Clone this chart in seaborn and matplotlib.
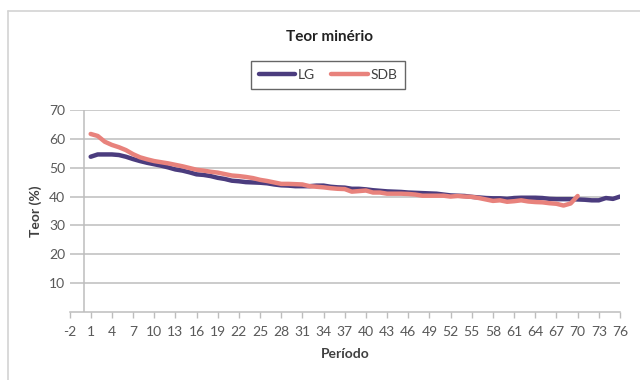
import numpy as np
import pandas as pd
import seaborn as sns
import matplotlib
matplotlib.use("Agg")
import matplotlib.pyplot as plt
from matplotlib.lines import Line2D

# Teor (%) por período para cada método de sequenciamento
periodo_lg = list(range(1, 77))
teor_lg = [
    53.8, 54.6, 54.6, 54.6, 54.4, 53.8, 53.0, 52.3, 51.7, 51.2,
    50.7, 50.1, 49.4, 49.0, 48.4, 47.7, 47.5, 47.1, 46.5, 46.1,
    45.5, 45.3, 45.0, 44.9, 44.8, 44.6, 44.2, 43.9, 43.8, 43.6,
    43.6, 43.6, 43.8, 43.8, 43.4, 43.2, 43.1, 42.7, 42.7, 42.5,
    42.2, 42.0, 41.8, 41.7, 41.6, 41.4, 41.3, 41.2, 41.1, 41.0,
    40.7, 40.4, 40.3, 40.2, 39.9, 39.7, 39.5, 39.4, 39.4, 39.2,
    39.5, 39.6, 39.6, 39.6, 39.5, 39.2, 39.1, 39.1, 39.1, 39.0,
    38.9, 38.7, 38.7, 39.5, 39.2, 40.0,
]
periodo_sdb = list(range(1, 71))
teor_sdb = [
    61.7, 61.0, 59.0, 57.9, 57.1, 56.1, 54.7, 53.6, 52.9, 52.3,
    51.9, 51.5, 51.0, 50.5, 49.9, 49.3, 49.0, 48.6, 48.3, 47.8,
    47.3, 47.1, 46.8, 46.4, 45.8, 45.4, 44.9, 44.4, 44.4, 44.3,
    44.2, 43.6, 43.4, 43.2, 42.9, 42.7, 42.6, 41.7, 41.9, 42.1,
    41.4, 41.4, 41.0, 41.0, 41.0, 40.9, 40.7, 40.3, 40.3, 40.3,
    40.3, 40.0, 40.2, 40.0, 39.9, 39.5, 39.0, 38.5, 38.7, 38.2,
    38.4, 38.7, 38.3, 38.1, 38.0, 37.7, 37.5, 36.9, 37.6, 40.2,
]
series = ["LG", "SDB"]
colors = {"LG": "#4B3C7E", "SDB": "#E8827C"}

x_ticks = list(range(-2, 77, 3))
y_ticks = list(range(10, 71, 10))

df = pd.concat([
    pd.DataFrame({"Período": periodo_lg, "Teor": teor_lg, "Série": "LG"}),
    pd.DataFrame({"Período": periodo_sdb, "Teor": teor_sdb, "Série": "SDB"}),
])

sns.set_theme(style="white")
plt.rcParams["font.family"] = ["Lato", "DejaVu Sans"]
plt.rcParams["axes.unicode_minus"] = False

fig = plt.figure(figsize=(6.4, 3.8), dpi=100)
ax = fig.add_axes([69.5 / 640, 1 - 312 / 380, (620 - 69.5) / 640, (312 - 110) / 380])

grid_c = "#BDBDBD"
tick_c = "#595959"

# horizontal gridlines and the vertical axis at x = 0
for yv in y_ticks:
    ax.axhline(yv, color=grid_c, lw=1.1, zorder=0)
ax.axvline(0, color=grid_c, lw=1.1, zorder=0)

sns.lineplot(data=df, x="Período", y="Teor", hue="Série", palette=colors,
             lw=3.2, ax=ax, legend=False, zorder=3)

ax.set_xlim(-2, 76)
ax.set_ylim(0, 70)
ax.set_xticks(x_ticks)
ax.set_yticks(y_ticks)
ax.tick_params(axis="x", direction="out", length=4, width=1, color=grid_c,
               labelsize=10, labelcolor=tick_c, pad=6, bottom=True)
ax.tick_params(axis="y", length=0, labelsize=10, labelcolor=tick_c, pad=3)

for s in ["top", "right", "left"]:
    ax.spines[s].set_visible(False)
ax.spines["bottom"].set_color(grid_c)
ax.spines["bottom"].set_linewidth(1.1)

ax.set_xlabel("Período", fontsize=10, fontweight="bold", color="#404040", labelpad=7)
ax.set_ylabel("Teor (%)", fontsize=10, fontweight="bold", color="#404040", labelpad=5)

fig.text(329 / 640, 1 - 37 / 380, "Teor minério", ha="center", va="center",
         fontsize=11, fontweight="bold", color="#222222")

handles = [Line2D([0], [0], color=colors[s], lw=3.2) for s in series]
leg = fig.legend(handles, series, ncol=2, loc="center",
                 bbox_to_anchor=(328 / 640, 1 - 75 / 380), frameon=True,
                 fancybox=False, edgecolor="#404040", fontsize=10,
                 handlelength=2.6, handletextpad=0.2, columnspacing=1.2,
                 borderpad=0.55)
leg.get_frame().set_linewidth(1.0)
for t in leg.get_texts():
    t.set_color("#404040")

# chart frame (top and left edges)
fig.add_artist(Line2D([8 / 640, 1], [1 - 11 / 380, 1 - 11 / 380],
                      transform=fig.transFigure, color="#D3D3D3", lw=1.2))
fig.add_artist(Line2D([8 / 640, 8 / 640], [0, 1 - 11 / 380],
                      transform=fig.transFigure, color="#D3D3D3", lw=1.2))

fig.savefig("out.png", dpi=100)
